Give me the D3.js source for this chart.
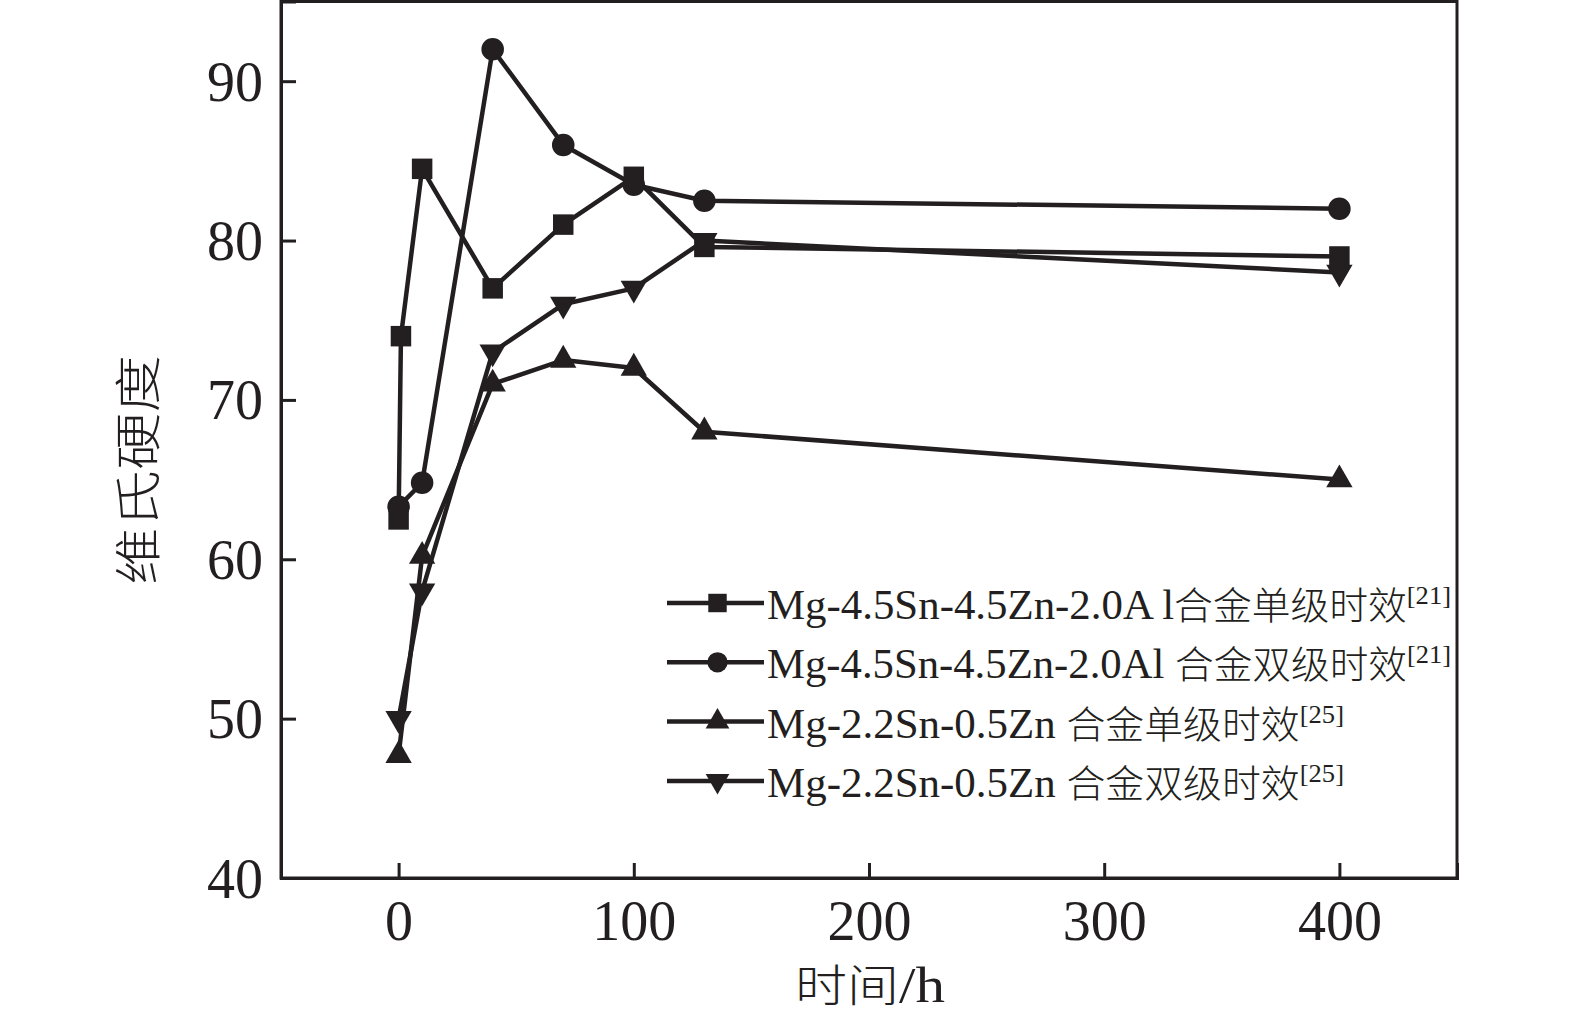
<!DOCTYPE html>
<html>
<head>
<meta charset="utf-8">
<script src="https://cdn.jsdelivr.net/npm/d3@7"></script>
<style>
html,body{margin:0;padding:0;background:#fff;}
svg{display:block;}
</style>
</head>
<body>
<svg id="chart" width="1575" height="1026"></svg>
<script>
// ---- data ----
const xTicks = [0, 100, 200, 300, 400];
const yTicks = [40, 50, 60, 70, 80, 90];
const xLabel = "时间/h";
const yLabel = "维氏硬度";

const s1Times = [0, 1, 10, 40, 70, 100, 130, 400];
const s1Hv    = [62.5, 74, 84.5, 77, 81, 84, 79.6, 79];
const s2Times = [0, 10, 40, 70, 100, 130, 400];
const s2Hv    = [63.3, 64.8, 92, 86, 83.5, 82.5, 82];
const s3Times = [0, 10, 40, 70, 100, 130, 400];
const s3Hv    = [47.7, 60.2, 71, 72.5, 72, 68, 65];
const s4Times = [0, 10, 40, 70, 100, 130, 400];
const s4Hv    = [50, 58, 73, 76, 77, 80, 78];

const seriesLatin = ["Mg-4.5Sn-4.5Zn-2.0A l", "Mg-4.5Sn-4.5Zn-2.0Al ", "Mg-2.2Sn-0.5Zn ", "Mg-2.2Sn-0.5Zn "];
const seriesCJK   = ["合金单级时效", "合金双级时效", "合金单级时效", "合金双级时效"];
const seriesRef   = ["[21]", "[21]", "[25]", "[25]"];
const seriesShape = ["square", "circle", "up", "down"];

// ---- drawing ----
const ink = "#231f20";
const svg = d3.select("#chart");
const L = 281, R = 1457, T = 1.5, B = 878;
const x = d3.scaleLinear().domain([-50, 450]).range([L, R]);
const y = d3.scaleLinear().domain([40, 95]).range([B, T]);

const series = [
  {t: s1Times, v: s1Hv},
  {t: s2Times, v: s2Hv},
  {t: s3Times, v: s3Hv},
  {t: s4Times, v: s4Hv}
].map((s, i) => ({pts: s.t.map((t, j) => [t, s.v[j]]), shape: seriesShape[i],
  latin: seriesLatin[i], cjk: seriesCJK[i], ref: seriesRef[i]}));

function symbolPath(shape, scale) {
  const k = scale || 1;
  if (shape === "square") return d3.symbol(d3.symbolSquare, 420 * k * k)();
  if (shape === "circle") return d3.symbol(d3.symbolCircle, 400 * k * k)();
  return d3.symbol(d3.symbolTriangle, 300 * k * k)();
}
function symbolTransform(shape, px, py) {
  return shape === "down" ? `translate(${px},${py}) rotate(180)` : `translate(${px},${py})`;
}

// frame
svg.append("rect").attr("x", L).attr("y", T).attr("width", R - L).attr("height", B - T)
  .attr("fill", "none").attr("stroke", ink).attr("stroke-width", 3);

// axes (ticks inward)
const xAxis = d3.axisBottom(x).tickValues(xTicks).tickSize(-15).tickPadding(22).tickFormat(d3.format("d"));
const gx = svg.append("g").attr("transform", `translate(0,${B})`).call(xAxis);
const yAxis = d3.axisLeft(y).tickValues(yTicks).tickSize(-15).tickPadding(18).tickFormat(d3.format("d"));
const gy = svg.append("g").attr("transform", `translate(${L},0)`).call(yAxis);
[gx, gy].forEach(g => {
  g.select(".domain").attr("stroke", ink).attr("stroke-width", 3);
  g.selectAll(".tick line").attr("stroke", ink).attr("stroke-width", 3);
  g.selectAll(".tick text").attr("fill", ink)
    .style("font-family", "'Liberation Serif','Times New Roman',serif").style("font-size", "56px");
});
gx.selectAll(".tick text").attr("dy", "0.71em");
gy.selectAll(".tick text").attr("dy", "0.34em");

// lines
const line = d3.line().x(d => x(d[0])).y(d => y(d[1]));
series.forEach(s => {
  svg.append("path").attr("d", line(s.pts)).attr("fill", "none")
    .attr("stroke", ink).attr("stroke-width", 4.5).attr("stroke-linejoin", "round");
});
series.forEach(s => {
  svg.append("g").selectAll("path").data(s.pts).join("path")
    .attr("d", symbolPath(s.shape))
    .attr("transform", d => symbolTransform(s.shape, x(d[0]), y(d[1])))
    .attr("fill", ink);
});

// legend
const legX0 = 667, legX1 = 764, legY0 = 603, legDY = 59.3;
const legWidths = [684, 684, 577, 577];
series.forEach((s, i) => {
  const ly = legY0 + i * legDY;
  const g = svg.append("g");
  g.append("line").attr("x1", legX0).attr("x2", legX1).attr("y1", ly).attr("y2", ly)
    .attr("stroke", ink).attr("stroke-width", 4.5);
  g.append("path").attr("d", symbolPath(s.shape, 0.9))
    .attr("transform", symbolTransform(s.shape, (legX0 + legX1) / 2 + 2, ly)).attr("fill", ink);
  const t = g.append("text").attr("x", 767).attr("y", ly + 16).attr("fill", ink)
    .attr("textLength", legWidths[i]).attr("lengthAdjust", "spacingAndGlyphs")
    .style("font-family", "'Liberation Serif','Times New Roman',serif").style("font-size", "42px");
  t.append("tspan").text(s.latin);
  t.append("tspan").style("font-family", "'Noto Sans CJK SC',sans-serif").style("font-size", "38px")
    .style("font-weight", "300").text(s.cjk);
  t.append("tspan").attr("dy", -15).style("font-size", "26px").text(s.ref);
});

// axis titles
svg.append("text").attr("x", 870).attr("y", 1002).attr("text-anchor", "middle").attr("fill", ink)
  .attr("textLength", 150).attr("lengthAdjust", "spacingAndGlyphs")
  .style("font-family", "'Liberation Serif',serif").style("font-size", "50px")
  .call(t => {
    t.append("tspan").style("font-family", "'Noto Sans CJK SC',sans-serif").style("font-size", "44px")
      .style("font-weight", "300").text(xLabel.slice(0, 2));
    t.append("tspan").text(xLabel.slice(2));
  });

svg.append("text").attr("transform", "translate(155,470) rotate(-90)")
  .attr("text-anchor", "middle").attr("fill", ink)
  .attr("textLength", 230).attr("lengthAdjust", "spacingAndGlyphs")
  .style("font-family", "'Noto Sans CJK SC',sans-serif").style("font-size", "47px").style("font-weight", "300")
  .text(yLabel);
</script>
</body>
</html>
